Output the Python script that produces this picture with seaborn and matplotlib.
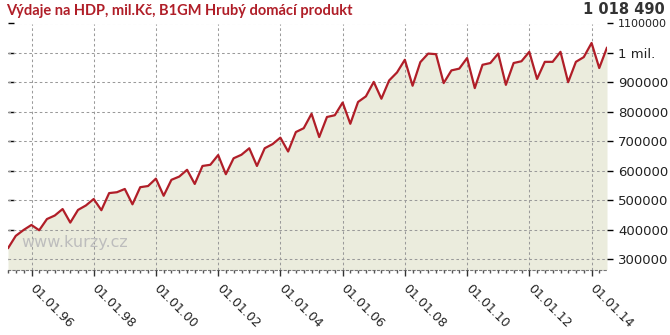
import numpy as np
import pandas as pd
import matplotlib
matplotlib.use("Agg")
import matplotlib.pyplot as plt
import matplotlib.dates as mdates
from matplotlib.ticker import FixedLocator, FixedFormatter
import seaborn as sns

sns.set_theme(style="white")
plt.rcParams["font.family"] = ["DejaVu Sans"]

# ---------------- data ----------------
title = "Výdaje na HDP, mil.Kč, B1GM Hrubý domácí produkt"
last_value_label = "1 018 490"
watermark = "www.kurzy.cz"
first_quarter_end = "1995-03-31"
values_thousands = [338, 380, 400, 417, 399, 437, 449, 471, 425, 468, 483, 505,
                    467, 525, 528, 539, 487, 545, 549, 574, 516, 570, 581, 604,
                    556, 617, 621, 654, 589, 643, 655, 677, 617, 677, 691, 713,
                    666, 732, 745, 794, 715, 783, 789, 832, 760, 834, 853, 902,
                    845, 907, 934, 977, 889, 969, 998, 996, 898, 941, 947, 983,
                    881, 960, 966, 998, 892, 966, 972, 1004, 912, 970, 970, 1004,
                    901, 970, 986, 1034, 949, 1018.49]
y_ticks = [300000, 400000, 500000, 600000, 700000, 800000, 900000, 1000000, 1100000]
y_tick_labels = ["300000", "400000", "500000", "600000", "700000", "800000",
                 "900000", "1 mil.", "1100000"]
x_tick_years = [1996, 1998, 2000, 2002, 2004, 2006, 2008, 2010, 2012, 2014]

dates = pd.date_range(first_quarter_end, periods=len(values_thousands), freq="QE")
df = pd.DataFrame({"date": dates, "value": np.array(values_thousands) * 1000.0})

# ---------------- figure ----------------
W, H = 670, 335
fig = plt.figure(figsize=(W / 100, H / 100), dpi=100)
fig.patch.set_facecolor("white")
left, right, top, bottom = 8, 607, 23.5, 269.5
ax = fig.add_axes([left / W, 1 - bottom / H, (right - left) / W, (bottom - top) / H])
ax.set_facecolor("white")

ymin, ymax = 266000, 1100000
ax.fill_between(df["date"], df["value"], ymin, color="#ebecdd", lw=0, zorder=1)
sns.lineplot(data=df, x="date", y="value", ax=ax, color="#b01e28", lw=1.6,
             zorder=3)

ax.set_xlim(dates[0], dates[-1])
ax.set_ylim(ymin, ymax)
ax.set_xlabel("")
ax.set_ylabel("")

# grid
grid_kw = dict(color="#9a9a9a", lw=0.75, ls=(0, (2.5, 2.5)))
ax.grid(True, which="major", **grid_kw)
ax.set_axisbelow(False)
for gl in ax.get_xgridlines() + ax.get_ygridlines():
    gl.set_zorder(2)

# y axis on the right
ax.yaxis.set_major_locator(FixedLocator(y_ticks))
ax.yaxis.set_major_formatter(FixedFormatter(y_tick_labels))
ax.yaxis.tick_right()
ax.tick_params(axis="y", which="major", right=True, left=False, direction="out",
               length=4, width=1, color="black", pad=4, labelsize=9.5,
               labelcolor="#222222")
ylabs = ax.get_yticklabels()
ylabs[-1].set_fontsize(8)

sec = ax.secondary_yaxis("left")
sec.set_yticks(y_ticks)
sec.set_yticklabels([])
sec.tick_params(direction="in", length=4, width=1, color="black")
sec.spines["left"].set_visible(False)

# x axis
major_dates = [pd.Timestamp(f"{y}-01-01") for y in x_tick_years]
ax.xaxis.set_major_locator(FixedLocator(mdates.date2num(major_dates)))
ax.xaxis.set_major_formatter(mdates.DateFormatter("%d.%m.%y"))
ax.xaxis.set_minor_locator(mdates.MonthLocator(bymonth=[1, 4, 7, 10]))
ax.tick_params(axis="x", which="major", bottom=True, direction="out", length=4,
               width=1, color="#333333", pad=8.5, labelsize=9,
               labelcolor="#222222")
ax.tick_params(axis="x", which="minor", bottom=True, direction="out", length=2,
               width=1, color="#555555")
for lab in ax.get_xticklabels():
    lab.set_rotation(-45)
    lab.set_ha("left")
    lab.set_va("center")
    lab.set_rotation_mode("anchor")

for s in ["top", "left", "right"]:
    ax.spines[s].set_visible(False)
ax.spines["bottom"].set_color("#777777")
ax.spines["bottom"].set_linewidth(0.8)
ax.spines["bottom"].set_linestyle((0, (2, 2)))

# texts
fig.text(6 / W, 1 - 11 / H, title, color="#b01e28", fontsize=10.5,
         fontweight="bold", family=["Lato", "DejaVu Sans"], va="center", ha="left")
fig.text(665 / W, 1 - 10 / H, last_value_label, color="#333333", fontsize=10.5,
         fontweight="bold", va="center", ha="right")
fig.text(21 / W, 1 - 242 / H, watermark, color="#bdbdbd", fontsize=11.5,
         va="center", ha="left", zorder=5)

fig.savefig("out.png", dpi=100)
